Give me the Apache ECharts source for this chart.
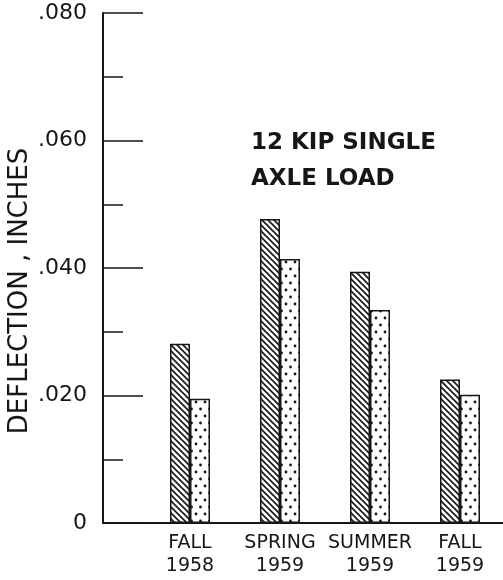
<!DOCTYPE html>
<html>
<head>
<meta charset="utf-8">
<title>Deflection 12 kip single axle load</title>
<script src="https://cdn.jsdelivr.net/npm/echarts@6/dist/echarts.min.js"></script>
<style>
  html, body { margin: 0; padding: 0; background: #fff; }
  #main { width: 503px; height: 580px; }
</style>
</head>
<body>
<div id="main"></div>
<script>
// data
var seasons = ['FALL\n1958', 'SPRING\n1959', 'SUMMER\n1959', 'FALL\n1959'];
var hatched = [0.0281, 0.0477, 0.0394, 0.0225];
var dotted = [0.0195, 0.0414, 0.0334, 0.0201];
var yTicks = [0, 0.02, 0.04, 0.06, 0.08];

var ink = '#161616';
var font = 'DejaVu Sans';

// fill patterns: diagonal hatch and dots
function hatchPattern() {
  var c = document.createElement('canvas');
  c.width = 6; c.height = 6;
  var g = c.getContext('2d');
  g.fillStyle = '#fff';
  g.fillRect(0, 0, 6, 6);
  g.strokeStyle = ink;
  g.lineWidth = 1.6;
  g.beginPath();
  g.moveTo(-1, -1); g.lineTo(7, 7);
  g.moveTo(-1, 5); g.lineTo(1, 7);
  g.moveTo(5, -1); g.lineTo(7, 1);
  g.stroke();
  return c;
}
function dotPattern() {
  var c = document.createElement('canvas');
  c.width = 9; c.height = 14;
  var g = c.getContext('2d');
  g.fillStyle = '#fff';
  g.fillRect(0, 0, 9, 14);
  g.fillStyle = ink;
  g.beginPath(); g.arc(2.5, 3, 1.4, 0, Math.PI * 2); g.fill();
  g.beginPath(); g.arc(7, 10, 1.4, 0, Math.PI * 2); g.fill();
  return c;
}

var chart = echarts.init(document.getElementById('main'));

var option = {
  backgroundColor: '#fff',
  animation: false,
  title: {
    text: '12 KIP SINGLE\nAXLE LOAD',
    left: 246,
    top: 120,
    textStyle: { fontFamily: font, fontSize: 23, fontWeight: 'bold', color: ink, lineHeight: 36 }
  },
  grid: [
    { left: 103, right: 0, top: 13, bottom: 57, outerBoundsMode: 'none' },   // frame with y axis
    { left: 145, width: 360, top: 13, bottom: 57, outerBoundsMode: 'none' }  // bars
  ],
  xAxis: [{
    gridIndex: 0,
    type: 'value',
    min: 0, max: 1,
    axisLine: { show: true, lineStyle: { color: ink, width: 2 } },
    axisTick: { show: false },
    axisLabel: { show: false },
    splitLine: { show: false }
  }, {
    gridIndex: 1,
    type: 'category',
    data: seasons,
    axisLine: { show: false },
    axisTick: { show: false },
    axisLabel: {
      interval: 0,
      margin: 9,
      fontFamily: font, fontSize: 19, color: ink, lineHeight: 23
    }
  }],
  yAxis: [{
    gridIndex: 0,
    type: 'value',
    min: yTicks[0],
    max: yTicks[yTicks.length - 1],
    interval: 0.02,
    name: 'DEFLECTION , INCHES',
    nameLocation: 'middle',
    nameGap: 70,
    nameMoveOverlap: false,
    nameTextStyle: { fontFamily: font, fontSize: 26, color: ink, padding: [0, 46, 0, 0] },
    axisLine: { show: true, lineStyle: { color: ink, width: 2 } },
    axisTick: { show: true, inside: true, length: 40, lineStyle: { color: ink, width: 1.5 } },
    minorTick: { show: true, splitNumber: 2, length: 20, lineStyle: { color: ink, width: 1.5 } },
    splitLine: { show: false },
    axisLabel: {
      margin: 16,
      fontFamily: font, fontSize: 22, color: ink,
      padding: [7, 0, 0, 0],
      formatter: function (v) {
        return v === 0 ? '0' : '.' + v.toFixed(3).slice(2);
      }
    }
  }, {
    gridIndex: 1,
    type: 'value',
    min: yTicks[0],
    max: yTicks[yTicks.length - 1],
    show: false
  }],
  series: [{
    name: 'hatched',
    type: 'bar',
    xAxisIndex: 1, yAxisIndex: 1,
    barWidth: 20,
    barGap: 0,
    itemStyle: {
      color: { image: hatchPattern(), repeat: 'repeat' },
      borderColor: ink, borderWidth: 1.5
    },
    data: hatched
  }, {
    name: 'dotted',
    type: 'bar',
    xAxisIndex: 1, yAxisIndex: 1,
    barWidth: 20,
    barGap: 0,
    itemStyle: {
      color: { image: dotPattern(), repeat: 'repeat' },
      borderColor: ink, borderWidth: 1.5
    },
    data: dotted
  }]
};

chart.setOption(option);
</script>
</body>
</html>
